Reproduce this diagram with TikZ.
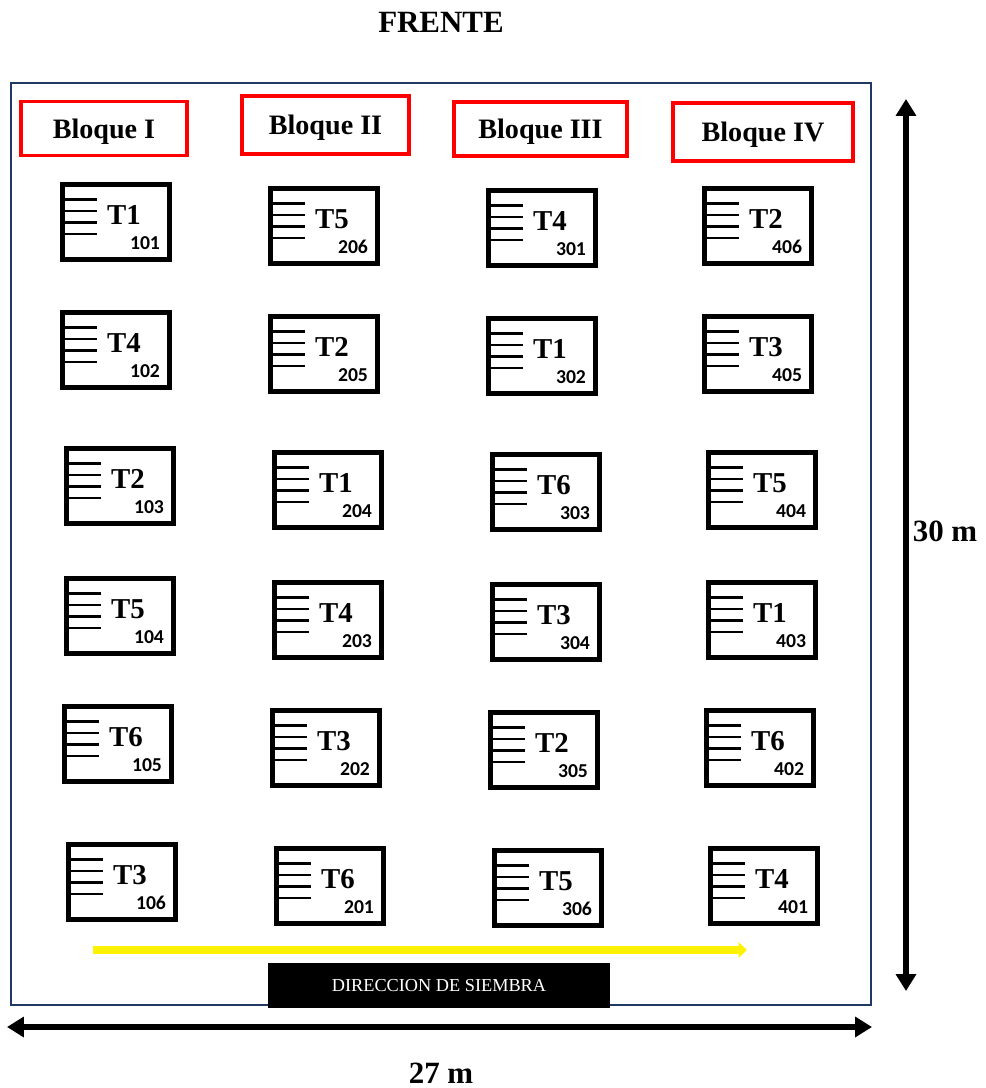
\documentclass[tikz,border=0pt]{standalone}
\usepackage{fontspec}
\setmainfont{Liberation Serif}
\newfontfamily\numfont{Carlito}
\usetikzlibrary{arrows.meta}
\definecolor{framenavy}{HTML}{1F3864}

\begin{document}
\begin{tikzpicture}[x=0.025cm, y=-0.025cm,
        bloque/.style={draw=red, line width=2.8pt, minimum height=1.35cm, text depth=0pt, font=\fontsize{20}{24}\selectfont\bfseries},
        plot/.style={draw, line width=3.6pt, minimum width=2.68cm, minimum height=1.88cm},
        hatch/.style={line width=1.8pt},
        trt/.style={font=\fontsize{20.5}{24}\selectfont\bfseries},
        num/.style={font=\fontsize{14}{16}\numfont\bfseries},
        dim/.style={line width=3.8pt, {Triangle[length=12pt,width=14pt]}-{Triangle[length=12pt,width=14pt]}},
        >=stealth
        ]
        \useasboundingbox (0,0) rectangle (986,1088);
        \node[font=\fontsize{22}{26}\selectfont\bfseries] (frente) at (441,22) {FRENTE};

        % field border
        \draw[framenavy, line width=1.4pt] (11,83) rectangle (871,1005);

        \node[bloque, minimum width=4.15cm] (b1) at (104,128.5) {Bloque I};
        \node[bloque, minimum width=4.18cm, minimum height=1.43cm] (b2) at (325.5,125) {Bloque II};
        \node[bloque, minimum width=4.33cm] (b3) at (540.5,129) {Bloque III};
        \node[bloque, minimum width=4.5cm, minimum height=1.43cm] (b4) at (763,132) {Bloque IV};

        \foreach \n/\t/\x/\y in {101/1/116/222, 102/4/116/350, 103/2/120/486, 104/5/120/616, 105/6/118/744, 106/3/122/882,
                                 206/5/324/226, 205/2/324/354, 204/1/328/490, 203/4/328/620, 202/3/326/748, 201/6/330/886,
                                 301/4/542/228, 302/1/542/356, 303/6/546/492, 304/3/546/622, 305/2/544/750, 306/5/548/888,
                                 406/2/758/226, 405/3/758/354, 404/5/762/490, 403/1/762/620, 402/6/760/748, 401/4/764/886} {
          \node[plot] (p\n) at (\x,\y) {};
          \foreach \k in {1,...,4}
            \draw[hatch] (p\n.north west) ++(0,6+\k*11.5) -- ++(37,0);
          \node[trt] (t\n) at ([shift={(8,-7)}]p\n.center) {T\t};
          \node[num] (n\n) at ([shift={(29,21)}]p\n.center) {\n};
        }

        % sowing direction
        \coordinate (ys) at (93,950);
        \coordinate (ye) at (747,950);
        \draw[yellow, line width=5pt, -{Triangle[length=6pt,width=11pt]}] (ys) -- (ye);
        \node[fill=black, text=white, minimum width=8.55cm, minimum height=1.13cm, inner sep=0pt,
              font=\fontsize{13}{15}\selectfont] (dir) at (439,985.5) {DIRECCION DE SIEMBRA};

        % dimensions
        \coordinate (vt) at (906,99);
        \coordinate (vb) at (906,991);
        \draw[dim] (vb) -- (vt);
        \node[font=\fontsize{22}{26}\selectfont\bfseries] (alto) at (945,531) {30 m};

        \coordinate (hl) at (7,1027);
        \coordinate (hr) at (872,1027);
        \draw[dim] (hl) -- (hr);
        \node[font=\fontsize{22}{26}\selectfont\bfseries] (ancho) at (441,1073) {27 m};
      \end{tikzpicture}
\end{document}
